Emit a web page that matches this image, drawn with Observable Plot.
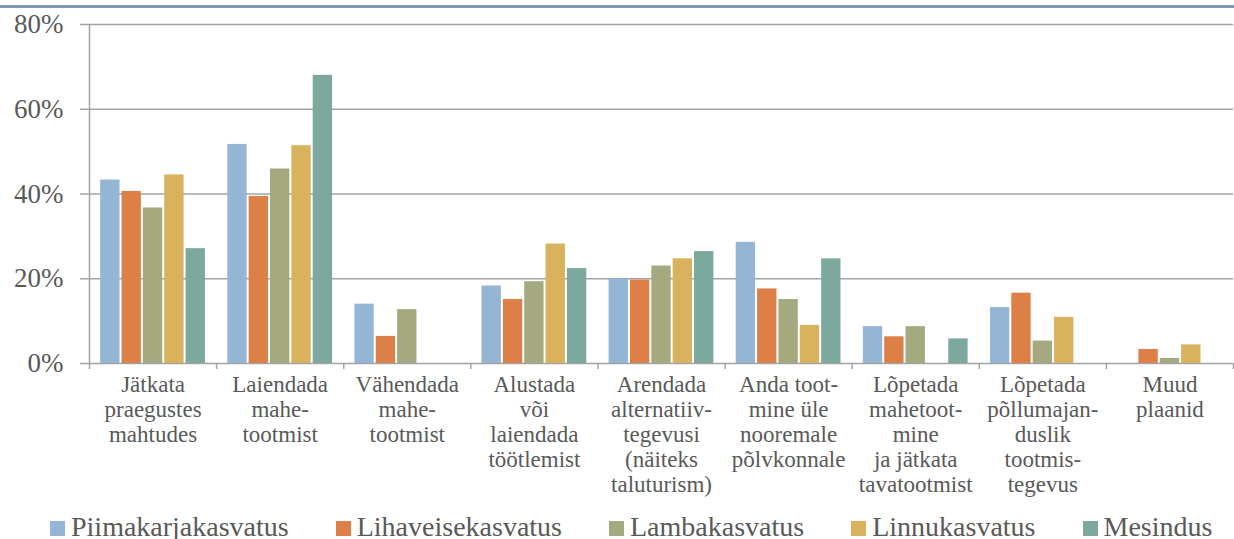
<!DOCTYPE html>
<html><head><meta charset="utf-8">
<script src="https://cdn.jsdelivr.net/npm/d3@7"></script>
<script src="https://cdn.jsdelivr.net/npm/@observablehq/plot@0.6"></script>
<style>
html,body{margin:0;padding:0;background:#fff;}
#wrap{position:relative;width:1234px;height:539px;overflow:hidden;font-family:"Liberation Serif",serif;}
#topline{position:absolute;left:0;top:5px;width:1234px;height:3px;background:#7f99b0;}
#chart{position:absolute;left:0;top:0;}
#legend{position:absolute;left:50px;top:511px;white-space:nowrap;font-size:28px;line-height:32px;color:#595959;}
#legend .item{display:inline-block;margin-right:47px;}
#legend .sw{display:inline-block;width:15px;height:15px;margin-right:6px;vertical-align:baseline;}
g[aria-label$="tick"]{stroke:#a3a3a3;stroke-width:1.5px;}
.tick line{stroke:#a3a3a3;stroke-width:1.5px;}
</style>
</head><body>
<div id="wrap"><div id="chart"></div><div id="topline"></div><div id="legend"></div></div>
<script>
const categories = [
  "Jätkata\npraegustes\nmahtudes",
  "Laiendada\nmahe-\ntootmist",
  "Vähendada\nmahe-\ntootmist",
  "Alustada\nvõi\nlaiendada\ntöötlemist",
  "Arendada\nalternatiiv-\ntegevusi\n(näiteks\ntaluturism)",
  "Anda toot-\nmine üle\nnooremale\npõlvkonnale",
  "Lõpetada\nmahetoot-\nmine\nja jätkata\ntavatootmist",
  "Lõpetada\npõllumajan-\nduslik\ntootmis-\ntegevus",
  "Muud\nplaanid"
];
const series = ["Piimakarjakasvatus", "Lihaveisekasvatus", "Lambakasvatus", "Linnukasvatus", "Mesindus"];
const colors = ["#95b5d4", "#dd8048", "#a5a97f", "#d8b25c", "#7ca89d"];
const piimakarjakasvatus = [43.3, 51.7, 14.0, 18.3, 20.0, 28.6, 8.7, 13.2, null];
const lihaveisekasvatus  = [40.6, 39.4, 6.4, 15.1, 19.7, 17.6, 6.3, 16.6, 3.3];
const lambakasvatus      = [36.7, 45.9, 12.7, 19.3, 23.0, 15.1, 8.7, 5.3, 1.2];
const linnukasvatus      = [44.5, 51.4, null, 28.2, 24.7, 9.0, null, 10.9, 4.4];
const mesindus           = [27.1, 68.0, null, 22.4, 26.4, 24.7, 5.8, null, null];
const yTicks = [0, 20, 40, 60, 80];

const values = [piimakarjakasvatus, lihaveisekasvatus, lambakasvatus, linnukasvatus, mesindus];
const data = [];
series.forEach((s, j) => categories.forEach((c, i) => data.push({ci: i, sj: j, series: s, value: values[j][i]})));

const groupPad = 0.08, step = 0.168;

const chart = Plot.plot({
  width: 1234, height: 505,
  marginLeft: 89, marginRight: 1, marginTop: 24, marginBottom: 142,
  style: {fontFamily: "Liberation Serif", fontSize: "27px", color: "#595959", background: "transparent", overflow: "visible"},
  x: {domain: [0, categories.length], ticks: d3.range(categories.length + 1), tickSize: 6, tickFormat: () => "", label: null},
  y: {domain: [0, 80], ticks: yTicks, tickSize: 9, tickPadding: 17, tickFormat: d => d + "%", label: null},
  color: {domain: series, range: colors},
  marks: [
    Plot.ruleY(yTicks, {stroke: "#a3a3a3", strokeWidth: 1.5}),
    Plot.ruleX([0], {stroke: "#a3a3a3", strokeWidth: 1.5}),
    Plot.rect(data, {
      x1: d => d.ci + groupPad + d.sj * step,
      x2: d => d.ci + groupPad + (d.sj + 1) * step,
      y1: 0, y2: "value", fill: "series", insetLeft: 1, insetRight: 1
    }),
    Plot.text(categories, {
      x: (d, i) => i + 0.5, frameAnchor: "bottom", text: d => d,
      lineAnchor: "top", dy: 11, fontSize: 23, lineHeight: 1.087, fill: "#595959"
    })
  ]
});
document.getElementById("chart").appendChild(chart);

const legend = document.getElementById("legend");
series.forEach((s, j) => {
  const item = document.createElement("span");
  item.className = "item";
  const sw = document.createElement("span");
  sw.className = "sw";
  sw.style.background = colors[j];
  item.appendChild(sw);
  item.appendChild(document.createTextNode(s));
  legend.appendChild(item);
});
</script>
</body></html>
